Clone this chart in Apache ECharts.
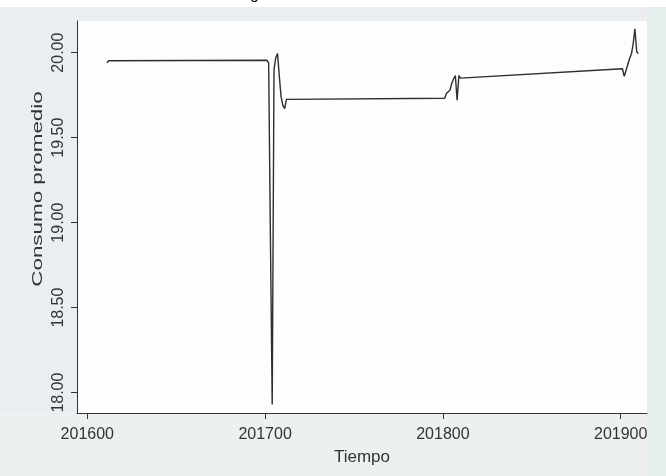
<!DOCTYPE html>
<html>
<head>
<meta charset="utf-8">
<script src="https://cdn.jsdelivr.net/npm/echarts@6/dist/echarts.min.js"></script>
<style>
html,body{margin:0;padding:0;background:#fff;}
#chart{width:666px;height:476px;}
</style>
</head>
<body>
<div id="chart"></div>
<script>
// Period (YYYYMM as number) and average consumption
const periods = [
  201611, 201612,
  201701, 201702, 201703, 201704, 201705, 201706, 201707, 201708, 201709, 201710, 201711, 201712,
  201801, 201802, 201803, 201804, 201805, 201806, 201807, 201808, 201809, 201810,
  201901, 201902, 201903, 201904, 201905, 201906, 201907, 201908, 201909, 201910
];
const consumo = [
  19.94, 19.952,
  19.955, 19.94, 18.90, 17.93, 19.90, 19.97, 19.995, 19.86, 19.74, 19.69, 19.67, 19.725,
  19.732, 19.76, 19.765, 19.78, 19.82, 19.845, 19.865, 19.72, 19.865, 19.85,
  19.905, 19.86, 19.895, 19.93, 19.965, 19.99, 20.05, 20.14, 20.005, 19.995
];
const xTicks = [201600, 201700, 201800, 201900];
const yTicks = [18.0, 18.5, 19.0, 19.5, 20.0];
const xTitle = 'Tiempo';
const yTitle = 'Consumo promedio';

const chart = echarts.init(document.getElementById('chart'), null, {renderer: 'canvas'});
const font = 'Liberation Sans, Arial, sans-serif';
chart.setOption({
  backgroundColor: '#eaeef0',
  animation: false,
  graphic: [
    {type: 'rect', left: 0, top: 0, shape: {width: 666, height: 7}, style: {fill: '#ffffff'}, z: -1},
    {type: 'rect', left: 0, top: 412, shape: {width: 666, height: 64}, style: {fill: '#edf0f1'}, z: -1},
    {type: 'rect', left: 647, top: 7, shape: {width: 19, height: 469}, style: {fill: '#e4efed'}, z: -1},
    {type: 'text', left: 250, top: -13, style: {text: 'g', font: '16px ' + font, fill: '#222'}},
    {type: 'text', x: 38, y: 189, rotation: Math.PI / 2, scaleX: 1.4, scaleY: 0.95,
      style: {text: yTitle, x: 0, y: 0, align: 'center', verticalAlign: 'middle', font: '16px ' + font, fill: '#333'}}
  ],
  grid: {left: 77, right: 19, top: 21, bottom: 63, show: true, backgroundColor: '#fdfdfd', borderWidth: 0},
  xAxis: {
    type: 'value',
    min: 201594.2,
    max: 201914.8,
    name: xTitle,
    nameLocation: 'middle',
    nameGap: 36,
    nameTextStyle: {fontFamily: font, fontSize: 17, color: '#333'},
    axisLine: {show: true, lineStyle: {color: '#333', width: 1}},
    axisTick: {show: true, length: 6, lineStyle: {color: '#333'}, customValues: xTicks},
    axisLabel: {fontFamily: font, fontSize: 16, color: '#333', margin: 14, customValues: xTicks,
      formatter: v => String(Math.round(v))},
    splitLine: {show: false}
  },
  yAxis: {
    type: 'value',
    min: 17.88,
    max: 20.186,
    axisLine: {show: true, lineStyle: {color: '#333', width: 1}},
    axisTick: {show: true, length: 6, lineStyle: {color: '#333'}, customValues: yTicks},
    axisLabel: {fontFamily: font, fontSize: 16, color: '#333', margin: 10, rotate: 90, customValues: yTicks,
      formatter: v => v.toFixed(2)},
    splitLine: {show: false}
  },
  series: [{
    type: 'line',
    data: periods.map((p, i) => [p, consumo[i]]),
    showSymbol: false,
    lineStyle: {color: '#2a2f33', width: 1.4},
    z: 3
  }]
});
</script>
</body>
</html>
